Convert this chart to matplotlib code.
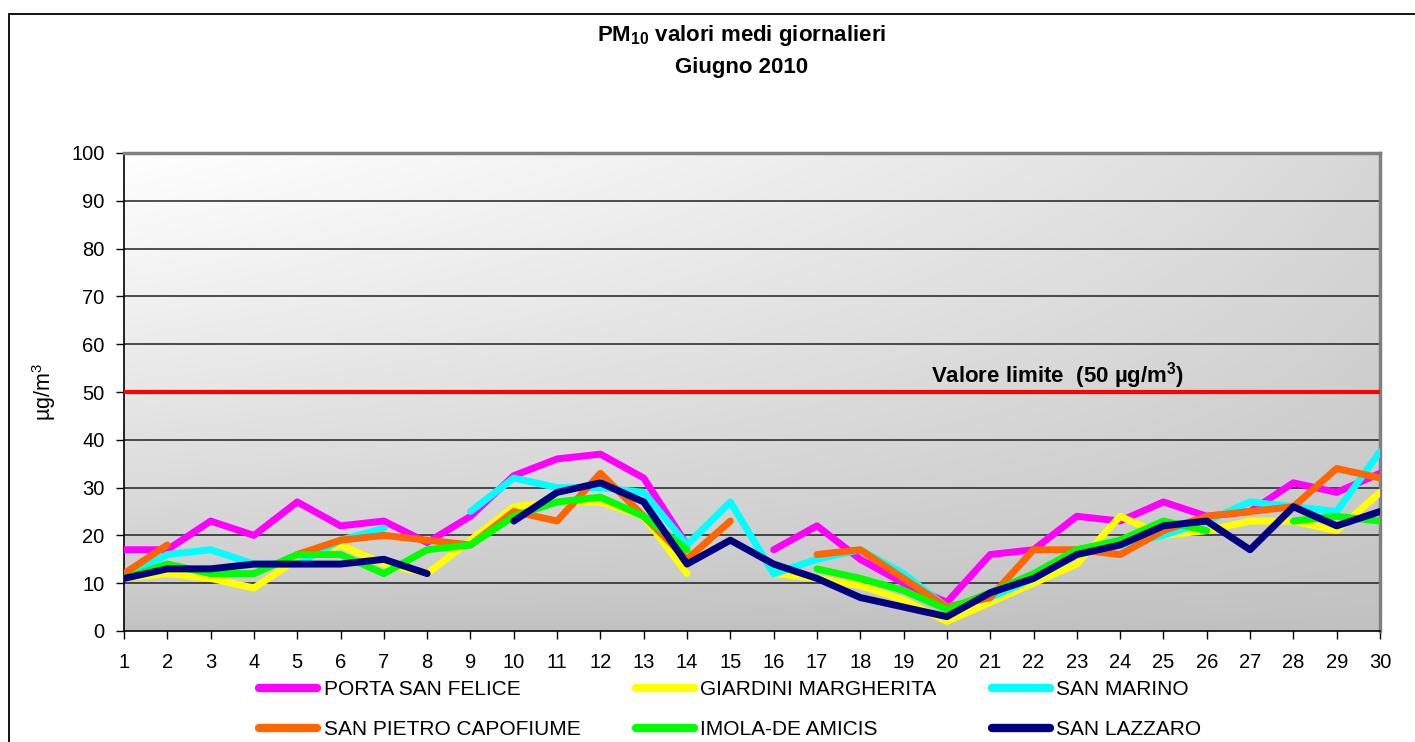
import matplotlib
matplotlib.use("Agg")
import matplotlib.pyplot as plt
import numpy as np
from matplotlib.patches import Rectangle

plt.rcParams['font.family'] = ['Liberation Sans', 'DejaVu Sans']
plt.rcParams['mathtext.default'] = 'regular'

nan = np.nan

# giorni di giugno 2010
days = list(range(1, 31))

porta_san_felice = [17, 17, 23, 20, 27, 22, 23, 18.5, 24, 32.5, 36, 37, 32, 18, nan,
                    17, 22, 15, 10, 6, 16, 17, 24, 23, 27, 24, 25, 31, 29, 33]
giardini_margherita = [11, 12, 11, 9, 15, 18, 14, 12, 19, 26, 27, 27, 24, 12, nan,
                       12, 11, 9.5, 6.5, 2, 6, 10, 14, 24, 20, 21, 23, 23, 21, 29]
san_marino = [11, 16, 17, 14, 14, 19, 21.5, nan, 25, 32, 30, 30, 29, 18, 27,
              12, 15, 17, 12, 5, 7, 11, 16, 18, 20, 23, 27, 26, 25, 37.5]
san_pietro_capofiume = [12, 18, nan, nan, 16, 19, 20, 19, 18, 25, 23, 33, 24, 15, 23,
                        nan, 16, 17, 11, 5, 7, 17, 17, 16, 21, 24, 25, 26, 34, 32]
imola_de_amicis = [11, 14, 12, 12, 16, 16, 12, 17, 18, 24, 27, 28, 24, 17, nan,
                   nan, 13, 11, 8.5, 4.5, 8, 12, 17, 19, 23, 21, nan, 23, 24, 23]
san_lazzaro = [11, 13, 13, 14, 14, 14, 15, 12, nan, 23, 29, 31, 27, 14, 19,
               14, 11, 7, 5, 3, 8, 11, 16, 18, 22, 23, 17, 26, 22, 25]

series_names = ["PORTA SAN FELICE", "GIARDINI MARGHERITA", "SAN MARINO",
                "SAN PIETRO CAPOFIUME", "IMOLA-DE AMICIS", "SAN LAZZARO"]
series_values = [porta_san_felice, giardini_margherita, san_marino,
                 san_pietro_capofiume, imola_de_amicis, san_lazzaro]
series_colors = ["#ff00ff", "#ffff00", "#00ffff", "#ff6600", "#00ff00", "#000080"]

limit_value = 50
y_ticks = list(range(0, 101, 10))

fig = plt.figure(figsize=(14.15, 7.42), dpi=100)
fig.patch.set_facecolor("white")

# cornice esterna del grafico
fig.patches.append(Rectangle((9 / 1415, -0.2), 1.2, 1.2 - 14 / 742, transform=fig.transFigure,
                             fill=False, edgecolor="black", linewidth=1.3, zorder=0))

ax = fig.add_axes([124 / 1415, 111 / 742, 1256 / 1415, 478 / 742])

# sfondo sfumato (chiaro in alto a sinistra, grigio in basso)
gx, gy = np.meshgrid(np.linspace(0, 1, 300), np.linspace(0, 1, 200))
shade = np.sqrt(np.clip(1 - 0.87 * gx, 0, 1)) * np.clip(gy, 0, 1) ** 0.7
grey = (192 + 63 * shade) / 255
ax.imshow(np.dstack([grey, grey, grey]), extent=(0, 1, 0, 1), origin="lower",
          transform=ax.transAxes, aspect="auto", zorder=0)

ax.set_xlim(1, 30)
ax.set_ylim(0, 100)
ax.set_yticks(y_ticks)
ax.set_xticks(days)
for y in y_ticks[1:]:
    ax.axhline(y, color="#202020", linewidth=1.1, zorder=1)

lines = []
for name, vals, col in zip(series_names, series_values, series_colors):
    ln, = ax.plot(days, vals, color=col, linewidth=5, label=name, zorder=3,
                  solid_capstyle="round", solid_joinstyle="round")
    lines.append(ln)

ax.axhline(limit_value, color="#ff0000", linewidth=3, zorder=4)
ax.text(0.6425, 52, "Valore limite  (50 µg/m$^3$)", transform=ax.get_yaxis_transform(),
        fontsize=16, fontweight="bold", va="baseline", ha="left", zorder=5)

for side in ("left", "bottom"):
    ax.spines[side].set_color("black")
    ax.spines[side].set_linewidth(1.2)
for side in ("top", "right"):
    ax.spines[side].set_color("#808080")
    ax.spines[side].set_linewidth(2.5)
ax.tick_params(axis="both", direction="out", length=6, width=1, colors="black",
               labelsize=14.5)
ax.tick_params(axis="y", pad=8)
ax.tick_params(axis="x", pad=10)

ax.set_ylabel("µg/m$^3$", fontsize=15.5)
ax.yaxis.set_label_coords(-66 / 1256, 0.5)

fig.text(742 / 1415, 1 - 35 / 742, "PM$_{10}$ valori medi giornalieri", ha="center",
         va="center", fontsize=16, fontweight="bold")
fig.text(742 / 1415, 1 - 67 / 742, "Giugno 2010", ha="center", va="center",
         fontsize=16, fontweight="bold")

# legenda su due righe, tre colonne
order = [0, 3, 1, 4, 2, 5]
fig.legend([lines[i] for i in order], [series_names[i] for i in order], ncol=3,
           loc="upper left", bbox_to_anchor=(259 / 1415, 1 - 680 / 742), frameon=False,
           fontsize=15, handlelength=2.8, handletextpad=0.3, columnspacing=2.65,
           labelspacing=1.0, borderpad=0, borderaxespad=0)
for h in fig.legends[0].legend_handles:
    h.set_linewidth(6)

fig.savefig("out.png", dpi=100)
